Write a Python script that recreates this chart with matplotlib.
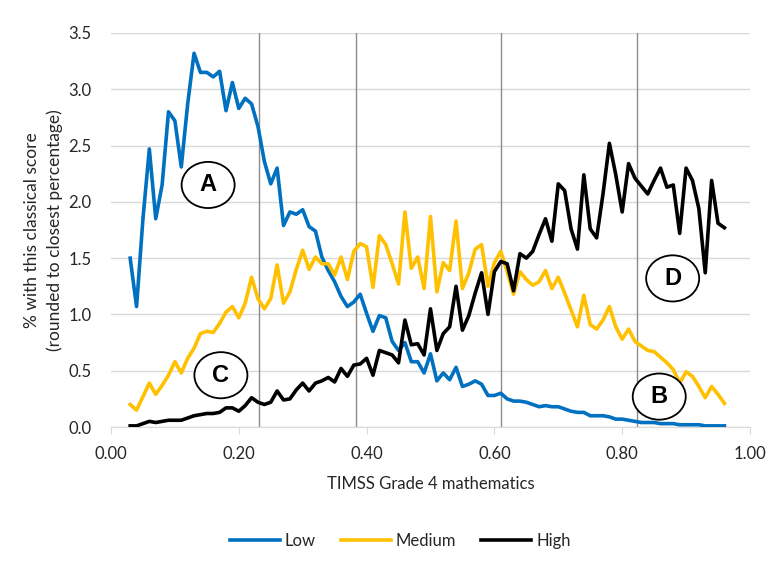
import matplotlib.pyplot as plt
from matplotlib.patches import Ellipse

# Scores on the x axis, 0.03 to 0.96 in steps of 0.01
puntajes = [round(0.03 + 0.01 * i, 2) for i in range(94)]

bajo = [1.50, 1.07, 1.85, 2.47, 1.85, 2.15, 2.80, 2.72, 2.31, 2.87,
        3.32, 3.15, 3.15, 3.11, 3.16, 2.81, 3.06, 2.83, 2.92, 2.87,
        2.67, 2.36, 2.16, 2.30, 1.79, 1.91, 1.89, 1.93, 1.78, 1.74,
        1.51, 1.39, 1.29, 1.16, 1.07, 1.11, 1.18, 1.01, 0.85, 0.99,
        0.97, 0.76, 0.68, 0.75, 0.58, 0.58, 0.48, 0.65, 0.41, 0.48,
        0.42, 0.53, 0.36, 0.38, 0.41, 0.38, 0.28, 0.28, 0.30, 0.25,
        0.23, 0.23, 0.22, 0.20, 0.18, 0.19, 0.18, 0.18, 0.16, 0.14,
        0.13, 0.13, 0.10, 0.10, 0.10, 0.09, 0.07, 0.07, 0.06, 0.05,
        0.04, 0.04, 0.04, 0.03, 0.03, 0.03, 0.02, 0.02, 0.02, 0.02,
        0.01, 0.01, 0.01, 0.01]

medio = [0.20, 0.15, 0.27, 0.39, 0.29, 0.37, 0.46, 0.58, 0.48, 0.61,
         0.70, 0.83, 0.85, 0.84, 0.92, 1.02, 1.07, 0.97, 1.10, 1.33,
         1.14, 1.05, 1.14, 1.44, 1.10, 1.20, 1.40, 1.57, 1.40, 1.51,
         1.45, 1.45, 1.35, 1.51, 1.31, 1.56, 1.63, 1.60, 1.24, 1.70,
         1.62, 1.45, 1.27, 1.91, 1.41, 1.51, 1.23, 1.87, 1.20, 1.46,
         1.39, 1.83, 1.23, 1.37, 1.58, 1.62, 1.25, 1.46, 1.56, 1.38,
         1.18, 1.38, 1.31, 1.26, 1.29, 1.39, 1.23, 1.33, 1.19, 1.04,
         0.89, 1.17, 0.91, 0.87, 0.95, 1.07, 0.89, 0.78, 0.87, 0.76,
         0.72, 0.68, 0.67, 0.62, 0.57, 0.51, 0.39, 0.49, 0.45, 0.36,
         0.26, 0.36, 0.29, 0.21]

alto = [0.01, 0.01, 0.03, 0.05, 0.04, 0.05, 0.06, 0.06, 0.06, 0.08,
        0.10, 0.11, 0.12, 0.12, 0.13, 0.17, 0.17, 0.14, 0.19, 0.26,
        0.22, 0.20, 0.22, 0.32, 0.24, 0.25, 0.33, 0.39, 0.32, 0.39,
        0.41, 0.44, 0.40, 0.52, 0.45, 0.55, 0.56, 0.61, 0.46, 0.68,
        0.66, 0.64, 0.57, 0.95, 0.73, 0.74, 0.64, 1.05, 0.68, 0.83,
        0.89, 1.25, 0.86, 0.99, 1.19, 1.37, 1.00, 1.38, 1.47, 1.45,
        1.21, 1.54, 1.50, 1.56, 1.71, 1.85, 1.65, 2.16, 2.10, 1.76,
        1.58, 2.24, 1.76, 1.68, 2.07, 2.52, 2.24, 1.91, 2.34, 2.21,
        2.14, 2.07, 2.19, 2.30, 2.13, 2.15, 1.72, 2.30, 2.19, 1.94,
        1.37, 2.19, 1.81, 1.77]

cortes = [0.231, 0.384, 0.611, 0.823]
etiquetas = ['A', 'B', 'C', 'D']
pos_etiquetas = [(0.152, 2.15), (0.858, 0.27), (0.172, 0.46), (0.879, 1.32)]

plt.rcParams['font.family'] = ['Lato', 'DejaVu Sans']
color_texto = '#262626'

fig = plt.figure(figsize=(7.8, 5.64), dpi=100)
ax = fig.add_axes([0.1423, 0.2429, 0.8192, 0.6986])

ax.plot(puntajes, bajo, color='#0070C0', lw=2.6, label='Low', zorder=3)
ax.plot(puntajes, medio, color='#FFC000', lw=2.6, label='Medium', zorder=3)
ax.plot(puntajes, alto, color='black', lw=2.6, label='High', zorder=3)

for c in cortes:
    ax.axvline(c, color='#8c8c8c', lw=1, zorder=2)

# circled letters
for letra, (x, y) in zip(etiquetas, pos_etiquetas):
    ax.add_patch(Ellipse((x, y), 0.083, 0.41, facecolor='white',
                         edgecolor='black', lw=1.3, zorder=4))
    ax.text(x, y, letra, ha='center', va='center', fontsize=17,
            fontweight='bold', family='Liberation Sans', zorder=5)

ax.set_xlim(0, 1)
ax.set_ylim(0, 3.5)
ax.set_xticks([0, 0.2, 0.4, 0.6, 0.8, 1.0])
ax.set_xticklabels(['0.00', '0.20', '0.40', '0.60', '0.80', '1.00'])
ax.set_yticks([0, 0.5, 1.0, 1.5, 2.0, 2.5, 3.0, 3.5])
ax.set_yticklabels(['0.0', '0.5', '1.0', '1.5', '2.0', '2.5', '3.0', '3.5'])
ax.grid(axis='y', color='#d9d9d9', lw=1, zorder=0)
ax.set_axisbelow(True)

for lado in ['top', 'right', 'left']:
    ax.spines[lado].set_visible(False)
ax.spines['bottom'].set_color('#d9d9d9')
ax.tick_params(axis='x', colors='#d9d9d9', length=5, labelcolor=color_texto,
               labelsize=12, pad=9)
ax.tick_params(axis='y', length=0, labelcolor=color_texto, labelsize=12, pad=14)

ax.set_xlabel('TIMSS Grade 4 mathematics', fontsize=12, color=color_texto,
              labelpad=10)
ax.set_ylabel('% with this classical score\n(rounded to closest percentage)',
              fontsize=12.5, color=color_texto, labelpad=4, linespacing=1.45)

fig.legend(loc='center', bbox_to_anchor=(0.513, 0.041), ncol=3,
           frameon=False, fontsize=12, handlelength=3.0, columnspacing=1.5,
           handletextpad=0.3, labelcolor=color_texto)

plt.savefig('out.png', dpi=100)
